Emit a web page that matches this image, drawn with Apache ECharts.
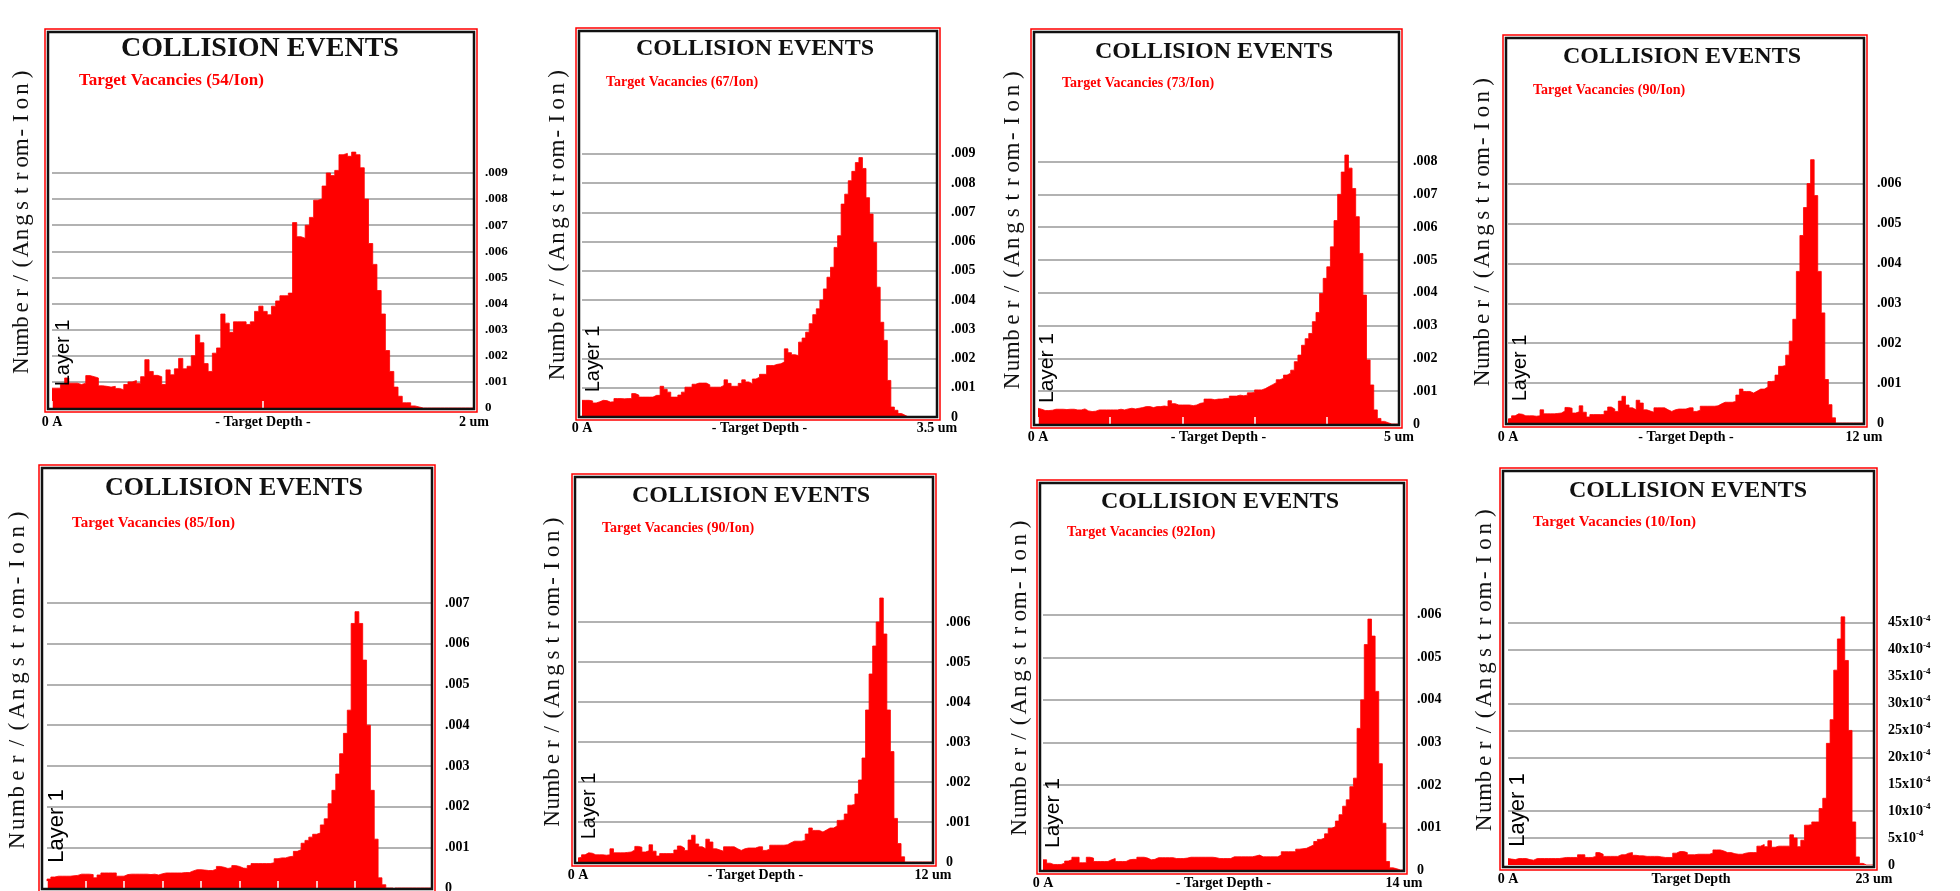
<!DOCTYPE html>
<html><head><meta charset="utf-8">
<script src="https://cdn.jsdelivr.net/npm/echarts@6/dist/echarts.min.js"></script>
<style>html,body{margin:0;padding:0;background:#fff}#c{width:1960px;height:891px}</style>
</head><body><div id="c"></div><script>
// Vacancy profiles, 100 depth bins each, values in units of 1e-4 Number/(Angstrom-Ion)
const vac54 = [7.6,7.6,7.6,9,11.5,9.5,9.5,9,9.5,12.4, 12,11.5,8.5,8.3,8,8.3,7.5,7,9,10,
  10.5,9.5,12,18.5,14,12.5,12,9,14.6,12.7, 15,19,15,16,20,28,25,17,14,21,
  23,36,32.5,29,33,33,33,32,33,37, 39,37,35.7,39,41,43,43,44,71,65.6,
  65,70,73,79.6,80,85,90,89,91,97, 97.5,96.4,98,97,92,80,63,55,45,36,
  22,14,8,4.5,2,2,0.8,0.4,0,0, 0,0,0,0,0,0,0,0,0,0];
const vac67 = [5.7,5.7,5.7,5.5,4.8,5.2,5.7,5.6,5.1,5.2, 6.3,6.3,6.2,6.3,6.3,8,7.5,6.8,6.8,6.8,
  6.8,7.4,7.4,10.5,9.5,8.5,6.8,6.8,7.5,8.5, 10.2,10.2,11.2,11.6,11.6,11.6,11,10.2,10.2,10.2,
  10.8,12.7,11.5,10.5,10.5,11.5,12.7,12,11.4,13, 13.6,14.6,14.6,17.6,17.6,18,18.2,18.8,23.3,22,
  21.3,21,25.6,27,29,31.9,35,37,40,43.8, 47.8,51.2,58,62,72.8,76.2,80.8,84,87,88.7,
  85,75,69.4,59.7,44.4,32.4,26.2,12.5,3.4,2.3, 1.2,0.6,0,0,0,0,0,0,0,0];
const vac73 = [4.8,4.5,4.1,4.1,4.2,4.5,4.5,4.5,4.4,4.5, 4.5,4.3,4.3,4.6,4.0,3.8,3.9,4.3,4.3,4.3,
  4.3,4.3,4.3,4.5,4.3,4.6,4.8,4.6,4.8,5, 5.3,5.3,5,5.3,5.3,5.5,5.3,7.1,6.2,5.8,
  5.8,5.8,5.8,5.6,5.8,6.3,6.5,7.6,7.6,7.4, 7.6,7.6,7.8,7.8,8.5,8.5,8.8,8.6,8.8,9.5,
  9.6,10.4,10.4,10.8,11.4,12,12.6,13.5,13.9,14.9, 15.5,16.4,19,21,24,26,27.6,31.2,34,39.8,
  44.4,47.9,54,62,70,76.8,82,78,71.8,63.2, 52,39.3,19.5,11.9,4.3,1.7,0.8,0.4,0,0];
const vac90 = [1,1.2,1.8,2.3,2.2,1.8,1.8,1.8,1.7,1.8, 3.3,2.3,2.3,2.3,2.4,2.5,3,3.9,3.7,2.5,
  2.8,4.3,2.7,1.5,2.1,2.1,2.1,2.1,3,4, 3.5,2.9,5.5,6.7,4.5,3.8,3.3,5.7,5,3.3,
  3,2.7,3.8,3.8,3.8,3.3,2.9,3.3,3.5,3.5, 3.5,3.8,3.8,2.9,3.2,4.2,4.2,4.2,4.2,4.3,
  4.8,5.2,5.2,5.2,5.4,7,8.5,7.9,7.9,7.5, 8,8.5,8.5,9,10.4,10.5,12,14.2,14.4,17,
  20.5,26,38,47,54,60,66,57,38,27.6, 10.9,4.6,1.3,0,0,0,0,0,0,0];
const vac85 = [1.5,2.2,2.7,2.9,2.9,2.9,2.9,3,3.1,3.4, 3.4,3.4,3.3,2.5,3.2,3.7,3.7,3.7,3.7,2.9,
  2.9,3.3,3.4,3.4,3.4,3.4,3.4,3.3,3.4,3.2, 3.5,3.7,3.7,3.7,3.7,3.7,3.8,3.8,4.2,4.5,
  4.5,4.4,4.3,4.3,4.6,5.3,5.1,4.8,5,5.5, 5.3,4.9,4.8,5.5,6,6,6,6,6,6.2,
  7.2,7.4,7.4,7.7,7.8,9,9.4,11,11.7,12.5, 13.2,13.5,15.5,17,20.7,24,28,33,38,43.7,
  65,67.9,65,56,40,24,12,2.5,0.8,0, 0,0,0,0,0,0,0,0,0,0];
const vac92 = [2.4,2.4,1.6,1.3,1.3,1.3,1.6,2.1,2.4,3, 3,1.7,1.7,3,2.8,2,2,2,2,2.4,
  2.7,2,2,2,2.4,2.5,2.5,3,3,2.8, 2.4,2.5,2.9,2.9,2.9,2.9,2.9,2.7,2.7,2.7,
  2.8,3,3,3,3,3,3,3,2.9,2.7, 2.7,2.7,2.7,3.1,3.1,3.1,3.1,3.1,3.1,3.3,
  3.5,3.1,3.1,3.1,3.1,3.1,3.5,4.3,4.3,4.3, 4.3,4.9,5,5.1,5.5,5.9,6.7,7.2,7.5,8.5,
  9.8,10.2,11.5,13,15,16.5,19.6,21.6,33.3,40, 53,59,55,42,25,11,2,0.5,0.3,0];
const vac10 = [1.2,1.1,1,1.2,1.2,1.2,1,0.9,1.2,1.2, 1.2,1.2,1.2,1.2,1.2,1.3,1.4,1.4,1.4,1.4,
  1.9,1.9,1.4,1.4,1.6,2.3,2,1.6,1.6,1.6, 1.6,1.9,1.9,2.2,2.3,1.8,1.7,1.7,1.6,1.6,
  1.6,1.6,1.5,1.4,1.4,1.4,2.2,2.5,2.5,2.3, 1.9,1.9,2,2,2,2,2.2,2.8,2.8,2.6,
  2.3,2.3,2.1,2,2,2.2,2.3,2.3,2.3,3.5, 3.8,3.4,4.5,3.3,3.5,3.5,3.5,3.5,5.6,5,
  3.4,4.6,7.4,7.5,8,8,10.5,12.4,22.6,27, 36.2,42,46.1,38,25,8,1.5,0.3,0,0];

const seriesData = [vac54, vac67, vac73, vac90, vac85, vac90, vac92, vac10];
const depthMax = [2, 3.5, 5, 12, 12, 12, 14, 23];
const depthLabels = ['2 um', '3.5 um', '5 um', '12 um', '', '12 um', '14 um', '23 um'];
const xAxisTitles = ['- Target Depth -', '- Target Depth -', '- Target Depth -', '- Target Depth -', '', '- Target Depth -', '- Target Depth -', 'Target Depth'];
const vacancyTitles = ['Target Vacancies (54/Ion)', 'Target Vacancies (67/Ion)', 'Target Vacancies (73/Ion)', 'Target Vacancies (90/Ion)',
  'Target Vacancies (85/Ion)', 'Target Vacancies (90/Ion)', 'Target Vacancies (92Ion)', 'Target Vacancies (10/Ion)'];
const yTopTick = [90, 90, 80, 60, 70, 60, 60, 45];
const yStep = [10, 10, 10, 10, 10, 10, 10, 5];
const gridLineVals = [
  [10,20,30,40,50,60,70,80,90], [10,20,30,40,50,60,70,80,90], [10,20,30,40,50,60,70,80],
  [10,20,30,40,50,60], [10,20,30,40,50,60,70], [10,20,30,40,50,60], [10,20,30,40,50,60],
  [5,10,20,25,30,40,45]];
const chartTitle = 'COLLISION EVENTS';
const yName = 'Number/(Angstrom-Ion)';
const layerName = 'Layer 1';
// 101 bin edges; each bin value is held from its left edge to the next edge (step histogram)
const binEdges = Array.from({length: 101}, (_, i) => String(i));

// layout (pixels)
const L = [
 {f:[48,32,474,409], dl:52, z:408, ymax:144, title:[260,49,28], sub:[79,81,17], yn:[22,220,300], ly:[63,353,20], xm:7, ym:11, tick:49, fs:13},
 {f:[579,31,937,417], dl:582, z:417, ymax:132, title:[755,49,24], sub:[606,82,14], yn:[558,223,307], ly:[593,359,20], xm:4, ym:14, tick:null, fs:14},
 {f:[1034,32,1399,425], dl:1038, z:424, ymax:119.5, title:[1214,52,24], sub:[1062,83,14], yn:[1013,228,315], ly:[1047,368,21], xm:6, ym:14, tick:19, fs:14},
 {f:[1506,38,1864,424], dl:1508, z:423, ymax:96.5, title:[1682,57,24], sub:[1533,90,14], yn:[1483,230,305], ly:[1520,368,20], xm:7, ym:13, tick:null, fs:14},
 {f:[42,468,432,889], dl:47, z:888, ymax:103.2, title:[234,488,26], sub:[72,523,15], yn:[18,678,335], ly:[57,826,22], xm:7, ym:13, tick:9, fs:14},
 {f:[575,477,933,863], dl:578, z:862, ymax:96.25, title:[751,496,24], sub:[602,528,14], yn:[553,670,306], ly:[589,806,20], xm:6, ym:13, tick:null, fs:14},
 {f:[1040,483,1404,871], dl:1043, z:870, ymax:91, title:[1220,502,24], sub:[1067,532,14], yn:[1020,676,312], ly:[1053,813,21], xm:6, ym:13, tick:null, fs:14},
 {f:[1503,471,1874,867], dl:1508, z:865, ymax:73.2, title:[1688,491,24], sub:[1533,522,15], yn:[1485,668,319], ly:[1518,810,22], xm:7, ym:14, tick:null, fs:14}
];
const SERIF = "'Liberation Serif','DejaVu Serif',serif";

const grids = [], xAxes = [], yAxes = [], series = [], graphics = [];
L.forEach((p, i) => {
  grids.push({left: p.dl, top: p.f[1], width: p.f[2] - p.dl, height: p.z - p.f[1],
    containLabel: false, outerBoundsMode: 'none'});
  xAxes.push({type: 'category', gridIndex: i, position: 'bottom', data: binEdges, boundaryGap: false, z: 10,
    axisLine: {show: false}, axisLabel: {show: false}, splitLine: {show: false},
    axisTick: p.tick == null ? {show: false} : {show: true, inside: true, interval: p.tick, length: 7, lineStyle: {color: '#ffffff', width: 1.5}}});
  xAxes.push({type: 'value', gridIndex: i, position: 'bottom', offset: 0, min: 0, max: depthMax[i], interval: depthMax[i],
    axisLine: {show: false}, axisTick: {show: false}, splitLine: {show: false},
    axisLabel: {show: depthLabels[i] !== '', margin: p.xm, showMinLabel: true, showMaxLabel: true,
      formatter: v => v === 0 ? '0 A' : depthLabels[i],
      color: '#000', fontFamily: SERIF, fontWeight: 'bold', fontSize: 14},
    name: xAxisTitles[i], nameLocation: 'middle', nameGap: p.xm, nameMoveOverlap: false,
    nameTextStyle: {color: '#000', fontFamily: SERIF, fontWeight: 'bold', fontSize: 14, verticalAlign: 'top'}});
  const top = yTopTick[i], step = yStep[i];
  const isExp = i === 7;
  yAxes.push({type: 'value', gridIndex: i, position: 'right', min: 0, max: p.ymax, interval: step,
    axisLine: {show: false}, axisTick: {show: false}, splitLine: {show: false},
    axisLabel: {margin: p.ym, showMaxLabel: true, color: '#000', fontFamily: SERIF, fontWeight: 'bold', fontSize: p.fs,
      formatter: v => {
        const r = Math.round(v);
        if (r > top || Math.abs(v - r) > 1e-6 || r % step !== 0) return '';
        if (isExp) return r === 0 ? '{n|0}' : '{n|' + r + 'x10}{e|-4}';
        return r === 0 ? '0' : '.00' + Math.round(r / 10);
      },
      rich: {n: {fontFamily: SERIF, fontWeight: 'bold', fontSize: 14, color: '#000', lineHeight: 18},
             e: {fontFamily: SERIF, fontWeight: 'bold', fontSize: 9, color: '#000', verticalAlign: 'top', lineHeight: 18}}}});
  const d = seriesData[i];
  series.push({type: 'line', step: 'start', xAxisIndex: 2 * i, yAxisIndex: i,
    data: d.concat([d[d.length - 1]]),
    symbol: 'none', showSymbol: false, z: 2, silent: true,
    lineStyle: {color: '#ff0000', width: 0.8}, areaStyle: {color: '#ff0000', opacity: 1},
    markLine: {z: 1, silent: true, symbol: ['none', 'none'], label: {show: false},
      lineStyle: {color: '#999999', width: 1.7, type: 'solid'}, emphasis: {disabled: true},
      data: gridLineVals[i].map(v => ({yAxis: v}))}});

  const [l, t, r, b] = p.f;
  graphics.push({type: 'rect', z: 30, silent: true, shape: {x: l - 3, y: t - 3, width: r - l + 6, height: b - t + 6},
    style: {fill: 'none', stroke: '#ff0000', lineWidth: 1.5}});
  graphics.push({type: 'rect', z: 31, silent: true, shape: {x: l, y: t, width: r - l, height: b - t},
    style: {fill: 'none', stroke: '#111', lineWidth: 2.5}});
  graphics.push({type: 'text', z: 32, silent: true, x: p.title[0], y: p.title[1],
    style: {text: chartTitle, align: 'center', verticalAlign: 'middle', textAlign: 'center', textVerticalAlign: 'middle',
      fontSize: p.title[2], fontWeight: 'bold', fontFamily: SERIF, fill: '#111'}});
  graphics.push({type: 'text', z: 32, silent: true, x: p.sub[0], y: p.sub[1],
    style: {text: vacancyTitles[i], align: 'left', verticalAlign: 'middle', textAlign: 'left', textVerticalAlign: 'middle',
      fontSize: p.sub[2], fontWeight: 'bold', fontFamily: SERIF, fill: '#ff0000'}});
  const slot = p.yn[2] / 20.6;
  graphics.push({type: 'text', z: 32, silent: true, x: p.yn[0], y: p.yn[1], rotation: Math.PI / 2,
    style: {text: yName.split('').map(c => '{c|' + c + '}').join(''), align: 'center', verticalAlign: 'middle',
      textAlign: 'center', textVerticalAlign: 'middle', fontSize: 23, fontFamily: SERIF, fill: '#111',
      rich: {c: {width: slot, align: 'center', fontSize: 23, fontFamily: SERIF, fill: '#111'}}}});
  graphics.push({type: 'text', z: 32, silent: true, x: p.ly[0], y: p.ly[1], rotation: Math.PI / 2,
    style: {text: layerName, align: 'center', verticalAlign: 'middle', textAlign: 'center', textVerticalAlign: 'middle',
      fontSize: p.ly[2], fontFamily: "'Liberation Sans',Arial,sans-serif", fill: '#000'}});
});

const chart = echarts.init(document.getElementById('c'), null, {renderer: 'canvas'});
chart.setOption({
  backgroundColor: '#ffffff',
  animation: false,
  grid: grids, xAxis: xAxes, yAxis: yAxes, series: series,
  graphic: graphics
});
</script></body></html>
